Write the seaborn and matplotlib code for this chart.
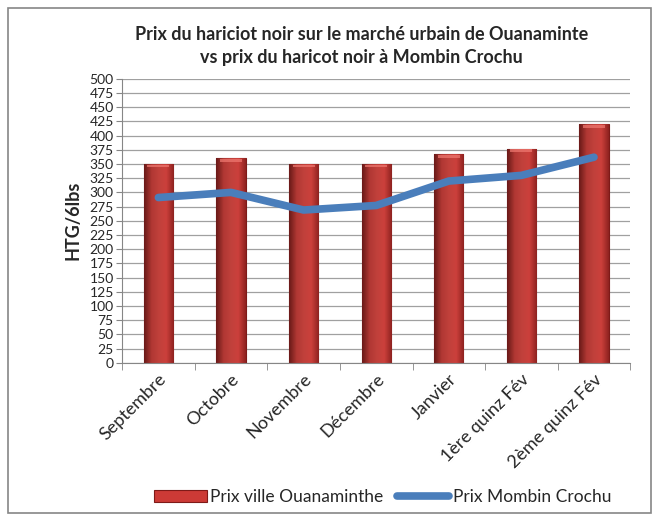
import matplotlib
matplotlib.use("Agg")
import matplotlib.pyplot as plt
import seaborn as sns
import pandas as pd
import numpy as np
from matplotlib.patches import Rectangle
from matplotlib.colors import LinearSegmentedColormap

# Values
mois = ["Septembre", "Octobre", "Novembre", "Décembre", "Janvier",
        "1ère quinz Fév", "2ème quinz Fév"]
prix_ouanaminthe = [350, 360, 350, 350, 367, 377, 420]
prix_mombin = [291, 300, 269, 277, 320, 330, 362]

df = pd.DataFrame({"mois": mois, "ouana": prix_ouanaminthe, "mombin": prix_mombin})

sns.set_style("white")
plt.rcParams["font.family"] = ["Lato", "DejaVu Sans"]

fig = plt.figure(figsize=(6.6, 5.22), dpi=100)
ax = fig.add_axes([0.185, 0.305, 0.77, 0.544])

sns.barplot(data=df, x="mois", y="ouana", ax=ax, color="#CC3A36", width=0.4,
            edgecolor="#7E1A18", linewidth=0.8, saturation=1,
            label="Prix ville Ouanaminthe", zorder=2)
sns.lineplot(x=np.arange(len(mois)), y=df["mombin"], ax=ax, color="#4A7EBB",
             linewidth=5.5, solid_capstyle="round", label="Prix Mombin Crochu", zorder=3)

ax.set_ylim(0, 500)
ax.set_xlim(-0.5, len(mois) - 0.5)

# shaded look of the bars: dark edges, bright middle, dark bottom
cmap = LinearSegmentedColormap.from_list("bar", ["#8E2220", "#D9443F", "#DC4A44", "#D9443F", "#8E2220"])
grad = np.tile(np.linspace(0, 1, 64), (64, 1))
vshade = np.linspace(0.75, 1.0, 64)[:, None]
for p in ax.patches:
    x0, y0 = p.get_x(), p.get_y()
    w, h = p.get_width(), p.get_height()
    rgba = cmap(grad)
    rgba[..., :3] *= vshade
    im = ax.imshow(rgba, extent=(x0, x0 + w, y0, y0 + h), origin="lower",
                   aspect="auto", zorder=2.1)
    im.set_clip_path(p)
    # lighter cap at the top
    ax.add_patch(Rectangle((x0 + w * 0.12, y0 + h - 6), w * 0.76, 5,
                           facecolor="#F07A72", edgecolor="none", alpha=0.7, zorder=2.2))
ax.set_xlim(-0.5, len(mois) - 0.5)
ax.set_ylim(0, 500)

ax.set_yticks(np.arange(0, 501, 25))
ax.yaxis.grid(True, color="#A0A0A0", linewidth=0.9, zorder=0)
ax.set_axisbelow(True)
for s in ["top", "right"]:
    ax.spines[s].set_visible(False)
ax.spines["left"].set_color("#868686")
ax.spines["bottom"].set_color("#868686")

ax.tick_params(axis="y", labelsize=10, length=4, color="#868686", pad=2, left=True)
ax.set_xticks(np.arange(len(mois)))
ax.set_xticklabels(mois, rotation=45, ha="right", rotation_mode="anchor", fontsize=13)
ax.tick_params(axis="x", length=0, pad=6)
# tick marks between categories, Excel style
ax.set_xticks(np.arange(-0.5, len(mois)), minor=True)
ax.tick_params(axis="x", which="minor", length=5, color="#868686", bottom=True)

ax.set_xlabel("")
ax.set_ylabel("HTG/6lbs", fontsize=13, fontweight="bold", labelpad=6)

fig.text(0.548, 0.912, "Prix du hariciot noir sur le marché urbain de Ouanaminte\n"
         "vs prix du haricot noir à Mombin Crochu",
         ha="center", va="center", fontsize=13, fontweight="bold", linespacing=1.45)

handles, labels = ax.get_legend_handles_labels()
order = [labels.index("Prix ville Ouanaminthe"), labels.index("Prix Mombin Crochu")]
ax.legend([handles[i] for i in order], [labels[i] for i in order],
          loc="center", bbox_to_anchor=(0.58, 0.047), bbox_transform=fig.transFigure,
          ncol=2, frameon=False, fontsize=12.5, handlelength=3.0,
          handletextpad=0.2, columnspacing=0.8)

fig.patches.append(Rectangle((0.012, 0.018), 0.975, 0.966, transform=fig.transFigure,
                             fill=False, edgecolor="#868686", linewidth=1.2))

fig.savefig("out.png", dpi=100)
